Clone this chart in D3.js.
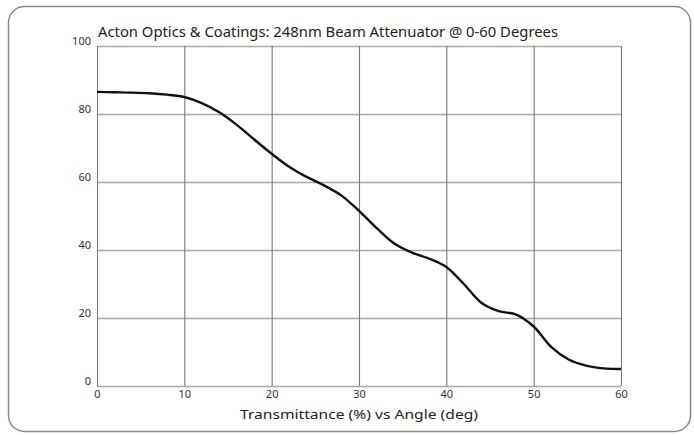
<!DOCTYPE html>
<html>
<head>
<meta charset="utf-8">
<script src="https://cdn.jsdelivr.net/npm/d3@7"></script>
<style>
  body { margin: 0; background: #fff; }
  svg text { font-family: "Noto Sans", "Open Sans", sans-serif; }
</style>
</head>
<body>
<svg id="chart" width="694" height="435"></svg>
<script>
// angle (deg) and transmittance (%)
var angles = [0, 2, 4, 6, 8, 10, 12, 14, 16, 18, 20, 22, 24, 26, 28, 30,
              32, 34, 36, 38, 40, 42, 44, 46, 48, 50, 52, 54, 56, 58, 60];
var transmittance = [86.5, 86.4, 86.3, 86.1, 85.7, 85.0, 83.2, 80.5, 76.8, 72.5, 68.3, 64.5, 61.5, 59.0, 56.0, 51.5,
                     46.5, 42.0, 39.3, 37.5, 35.0, 30.0, 24.5, 22.0, 21.0, 17.5, 11.5, 7.8, 6.0, 5.2, 5.0];
var xTicks = [0, 10, 20, 30, 40, 50, 60];
var yTicks = [0, 20, 40, 60, 80, 100];
var titleText = "Acton Optics & Coatings: 248nm Beam Attenuator @ 0-60 Degrees";
var xLabel = "Transmittance (%)  vs  Angle (deg)";

var svg = d3.select("#chart");
var margin = {left: 97, right: 73, top: 46, bottom: 49};
var width = 694 - margin.left - margin.right;
var height = 435 - margin.top - margin.bottom;

// outer rounded frame
svg.append("rect")
  .attr("x", 8.5).attr("y", 6.5)
  .attr("width", 682).attr("height", 425)
  .attr("rx", 16).attr("ry", 16)
  .attr("fill", "none")
  .attr("stroke", "#8a8a8a")
  .attr("stroke-width", 1.5);

var g = svg.append("g").attr("transform", "translate(" + margin.left + "," + margin.top + ")");

var x = d3.scaleLinear().domain([0, 60]).range([0, width]);
var y = d3.scaleLinear().domain([0, 100]).range([height, 0]);

// horizontal grid
g.append("g")
  .attr("class", "ygrid")
  .call(d3.axisLeft(y).tickValues(yTicks).tickSize(-width).tickFormat(""))
  .call(function(s) {
    s.select(".domain").remove();
    s.selectAll("line").attr("stroke", "#a8a8a8").attr("stroke-width", 1.6);
  });

// vertical grid
g.append("g")
  .attr("class", "xgrid")
  .attr("transform", "translate(0," + height + ")")
  .call(d3.axisBottom(x).tickValues(xTicks).tickSize(-height).tickFormat(""))
  .call(function(s) {
    s.select(".domain").remove();
    s.selectAll("line").attr("stroke", "#7a7a7a").attr("stroke-width", 1.1);
  });

// tick labels
g.append("g")
  .attr("transform", "translate(0," + height + ")")
  .call(d3.axisBottom(x).tickValues(xTicks).tickSize(0).tickPadding(4))
  .call(function(s) {
    s.select(".domain").remove();
    s.selectAll("text").attr("font-size", 11).attr("fill", "#333")
      .attr("font-family", "'Noto Sans', sans-serif");
  });

g.append("g")
  .call(d3.axisLeft(y).tickValues(yTicks).tickSize(0).tickPadding(6))
  .call(function(s) {
    s.select(".domain").remove();
    s.selectAll("text").attr("font-size", 11).attr("fill", "#333")
      .attr("dy", "-0.1em")
      .attr("font-family", "'Noto Sans', sans-serif");
  });

// curve
var line = d3.line()
  .x(function(d, i) { return x(angles[i]); })
  .y(function(d) { return y(d); })
  .curve(d3.curveCatmullRom.alpha(0.5));

g.append("path")
  .datum(transmittance)
  .attr("fill", "none")
  .attr("stroke", "#111")
  .attr("stroke-width", 2.4)
  .attr("d", line);

// title
svg.append("text")
  .attr("x", 98).attr("y", 37)
  .attr("font-size", 14)
  .attr("fill", "#222")
  .attr("textLength", 460)
  .attr("lengthAdjust", "spacingAndGlyphs")
  .text(titleText);

// axis title
svg.append("text")
  .attr("x", 240).attr("y", 419)
  .attr("font-size", 13)
  .attr("fill", "#222")
  .attr("textLength", 238)
  .attr("lengthAdjust", "spacingAndGlyphs")
  .text(xLabel);
</script>
</body>
</html>
